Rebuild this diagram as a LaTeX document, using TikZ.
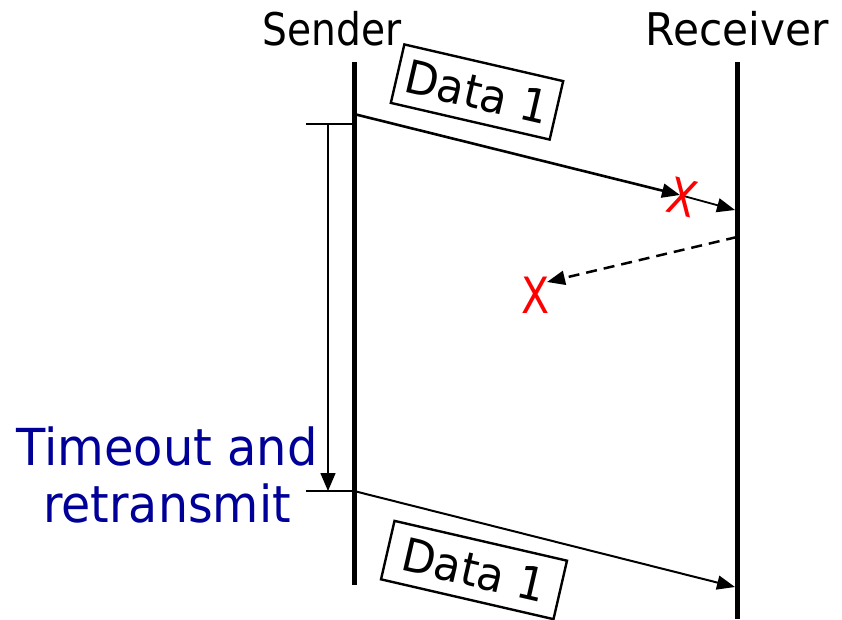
\documentclass[tikz,border=0pt]{standalone}
\usepackage{fontspec}
\setmainfont{DejaVu Sans}
\usetikzlibrary{arrows.meta}
\definecolor{navy}{RGB}{0,0,153}
\definecolor{lossred}{RGB}{255,0,0}
\begin{document}
\begin{tikzpicture}[x=1pt,y=-1pt,
  lifeline/.style={line width=5pt},
  msg/.style={line width=2pt,-{Triangle[length=18pt,width=14pt]}},
  pkt/.style={draw,line width=2.4pt,rotate=-13,inner sep=0pt,minimum height=60pt,
    font=\fontsize{46}{46}\selectfont},
  loss/.style={text=lossred,inner sep=0pt,font=\fontsize{50}{50}\selectfont},
  endlabel/.style={anchor=base,inner sep=0pt,font=\fontsize{45}{45}\selectfont},
  timerlabel/.style={anchor=base,inner sep=0pt,text=navy,font=\fontsize{51}{51}\selectfont},
  timer/.style={line width=1.5pt},
]
\useasboundingbox (0,0) rectangle (842,619);

% lifelines
\coordinate (sTop) at (354,62);
\coordinate (sBot) at (354,585);
\coordinate (rTop) at (737,62);
\coordinate (rBot) at (737,619);
\draw[lifeline] (sTop) -- (sBot);
\draw[lifeline] (rTop) -- (rBot);

\node[endlabel] (sender) at (332,45) {\scalebox{0.87}[1]{Sender}};
\node[endlabel] (receiver) at (737,45) {\scalebox{0.94}[1]{Receiver}};

% first transmission, lost on the way
\coordinate (s1) at (354,114);
\coordinate (hit) at (680,195);
\coordinate (r1) at (735,210);
\draw[msg,line width=2.6pt] (s1) -- (hit);
\draw[msg,line width=1.8pt] (hit) -- (r1);
\node[loss,rotate=-14] (x1) at (683,197) {\scalebox{0.82}[1]{X}};
\node[pkt,minimum width=163pt] (d1) at (477,92) {\scalebox{0.95}[1]{Data 1}};

% acknowledgement, also lost
\coordinate (r2) at (737,237);
\coordinate (ackEnd) at (547,282);
\draw[msg,line width=2.5pt,dash pattern=on 11pt off 7pt] (r2) -- (ackEnd);
\node[loss] (x2) at (536,295) {\scalebox{0.82}[1]{X}};

% timeout interval
\coordinate (tA) at (306,124);
\coordinate (tAs) at (354,124);
\coordinate (tB) at (306,491);
\coordinate (tBs) at (354,491);
\coordinate (tTop) at (328,124);
\coordinate (tEnd) at (328,491);
\draw[timer] (tA) -- (tAs);
\draw[timer] (tB) -- (tBs);
\draw[timer,-{Triangle[length=18pt,width=15pt]}] (tTop) -- (tEnd);
\node[timerlabel] (tmo1) at (167,465) {\scalebox{0.94}[1]{Timeout and}};
\node[timerlabel] (tmo2) at (167,522) {\scalebox{0.93}[1]{retransmit}};

% retransmission
\coordinate (s3) at (354,491);
\coordinate (r3) at (735,587);
\draw[msg] (s3) -- (r3);
\node[pkt,minimum width=177pt] (d2) at (474,570) {\scalebox{0.95}[1]{Data 1}};
\end{tikzpicture}
\end{document}
